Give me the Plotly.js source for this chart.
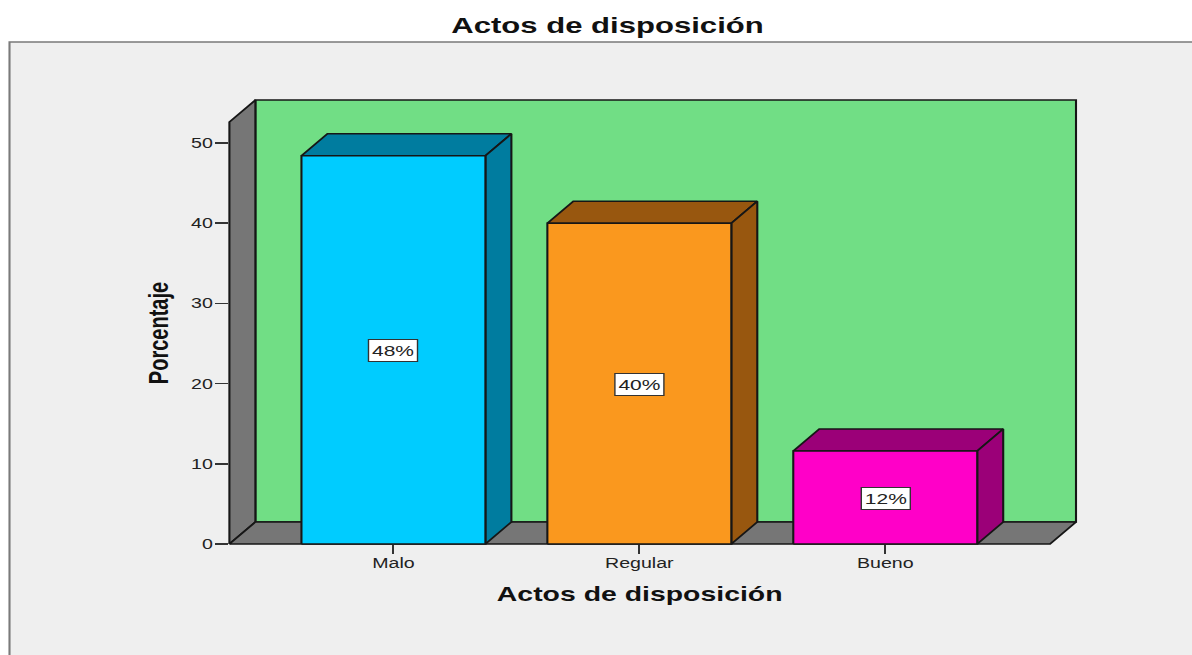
<!DOCTYPE html>
<html>
<head>
<meta charset="utf-8">
<script src="https://cdn.plot.ly/plotly-3.0.1.min.js"></script>
<style>
html,body{margin:0;padding:0;background:#fff;overflow:hidden;width:1192px;height:655px}
#chart{position:absolute;left:1px;top:0;transform:scaleX(1.4);transform-origin:0 0}
</style>
</head>
<body>
<div id="chart"></div>
<script>
// Data
const categories = ["Malo", "Regular", "Bueno"];
const percents = [48.4, 40.0, 11.6];
const percentLabels = ["48%", "40%", "12%"];
const frontColors = ["#00ccff", "#fa981e", "#ff00c8"];
const sideColors = ["#007c9f", "#98570f", "#9b0078"];
const yTicks = [0, 10, 20, 30, 40, 50];

// The reference is a picture stretched horizontally, so the page is too
const STRETCH = 1.4;
const W = 1192 / STRETCH, H = 655;

// Front face of the box in page pixels, and the extruded depth
const frontL = 229, frontR = 1050, frontT = 122, frontB = 544, depthPxX = 26, depthPxY = 22, pad = 3;
const boxL = frontL - pad, boxR = frontR + depthPxX + pad, boxT = frontT - depthPxY - pad, boxB = frontB + pad;

const xRange = [-0.667, 2.67], yRange = [0, 52.62];
const pxX = (frontR - frontL) / (xRange[1] - xRange[0]);
const pxY = (frontB - frontT) / (yRange[1] - yRange[0]);
const depthX = depthPxX / pxX, depthY = depthPxY / pxY;
const barHalf = 0.374;
const edge = {color: "#161616", width: 1.5};
const xs = categories.map((_, i) => i);

// Extruded marks live on a second, hidden axis pair with the same scale and a
// larger box, so the depth is not clipped by the front face of the chart.
function poly(x, y, fill) {
  return {
    x: x.concat(x[0]), y: y.concat(y[0]), xaxis: "x2", yaxis: "y2",
    type: "scatter", mode: "lines", fill: "toself", fillcolor: fill, line: edge,
    hoverinfo: "skip", showlegend: false
  };
}

const [xa, xb] = xRange, ym = yRange[1];
const traces = [
  {x: xs, y: percents, type: "scatter", mode: "markers", marker: {opacity: 0}, hoverinfo: "skip", showlegend: false},
  poly([xa + depthX, xb + depthX, xb + depthX, xa + depthX], [depthY, depthY, ym + depthY, ym + depthY], "#71de85"),
  poly([xa, xa + depthX, xa + depthX, xa], [0, depthY, ym + depthY, ym], "#767676"),
  poly([xa, xb, xb + depthX, xa + depthX], [0, 0, depthY, depthY], "#767676")
];
xs.forEach((c, i) => {
  const v = percents[i], a = c - barHalf, b = c + barHalf;
  traces.push(poly([a, b, b + depthX, a + depthX], [v, v, v + depthY, v + depthY], sideColors[i]));
  traces.push(poly([b, b + depthX, b + depthX, b], [0, depthY, v + depthY, v], sideColors[i]));
  traces.push(poly([a, b, b, a], [0, 0, v, v], frontColors[i]));
});

const family = "Liberation Sans, Arial, sans-serif";
const tickFont = {family, size: 14, color: "#222"};
const boldFont = s => ({family, size: s, color: "#111", weight: 700});

const boxW = boxR - boxL, boxH = boxB - boxT;
const layout = {
  width: W, height: H,
  margin: {l: boxL / STRETCH, r: W - boxR / STRETCH, t: boxT, b: H - boxB, pad: 0},
  paper_bgcolor: "#ffffff", plot_bgcolor: "rgba(0,0,0,0)",
  title: {
    text: "Actos de disposición", font: boldFont(22.2),
    x: 606.5 / 1192, xanchor: "center", xref: "container",
    y: 1 - 25 / 655, yanchor: "middle", yref: "container"
  },
  xaxis: {
    domain: [(frontL - boxL) / boxW, (frontR - boxL) / boxW], anchor: "y",
    range: xRange, tickmode: "array", tickvals: xs, ticktext: categories,
    ticks: "outside", ticklen: 9, tickwidth: 1.5, tickcolor: "#333", ticklabelstandoff: -3,
    showgrid: false, zeroline: false, showline: false, tickfont: tickFont,
    title: {text: "Actos de disposición", font: boldFont(20.3), standoff: 16},
    automargin: false
  },
  yaxis: {
    domain: [(boxB - frontB) / boxH, (boxB - frontT) / boxH], anchor: "x",
    range: yRange, tickmode: "array", tickvals: yTicks,
    ticks: "outside", ticklen: 9, tickwidth: 1.5, tickcolor: "#333", ticklabelstandoff: -1,
    showgrid: false, zeroline: false, showline: false, tickfont: tickFont,
    title: {text: "Porcentaje", font: boldFont(20), standoff: 10},
    automargin: false
  },
  xaxis2: {
    domain: [0, 1], anchor: "y2", visible: false, fixedrange: true,
    range: [(boxL - frontL) / pxX + xa, (boxR - frontL) / pxX + xa]
  },
  yaxis2: {
    domain: [0, 1], anchor: "x2", visible: false, fixedrange: true,
    range: [(frontB - boxB) / pxY, (frontB - boxT) / pxY]
  },
  shapes: [{
    type: "rect", xref: "paper", yref: "paper", layer: "below",
    x0: (9 - boxL) / boxW, x1: 1.4, y0: -0.5, y1: (boxB - 42) / boxH,
    fillcolor: "#efefef", line: {color: "#7a7a7a", width: 1.5}
  }],
  annotations: xs.map((c, i) => ({
    x: c, y: percents[i] / 2, xref: "x", yref: "y", text: percentLabels[i], showarrow: false,
    yshift: -1,
    font: {family, size: 15, color: "#222"},
    bgcolor: "#ffffff", bordercolor: "#333", borderwidth: 1, borderpad: 2
  }))
};

Plotly.newPlot("chart", traces, layout, {displayModeBar: false, staticPlot: true});
</script>
</body>
</html>
